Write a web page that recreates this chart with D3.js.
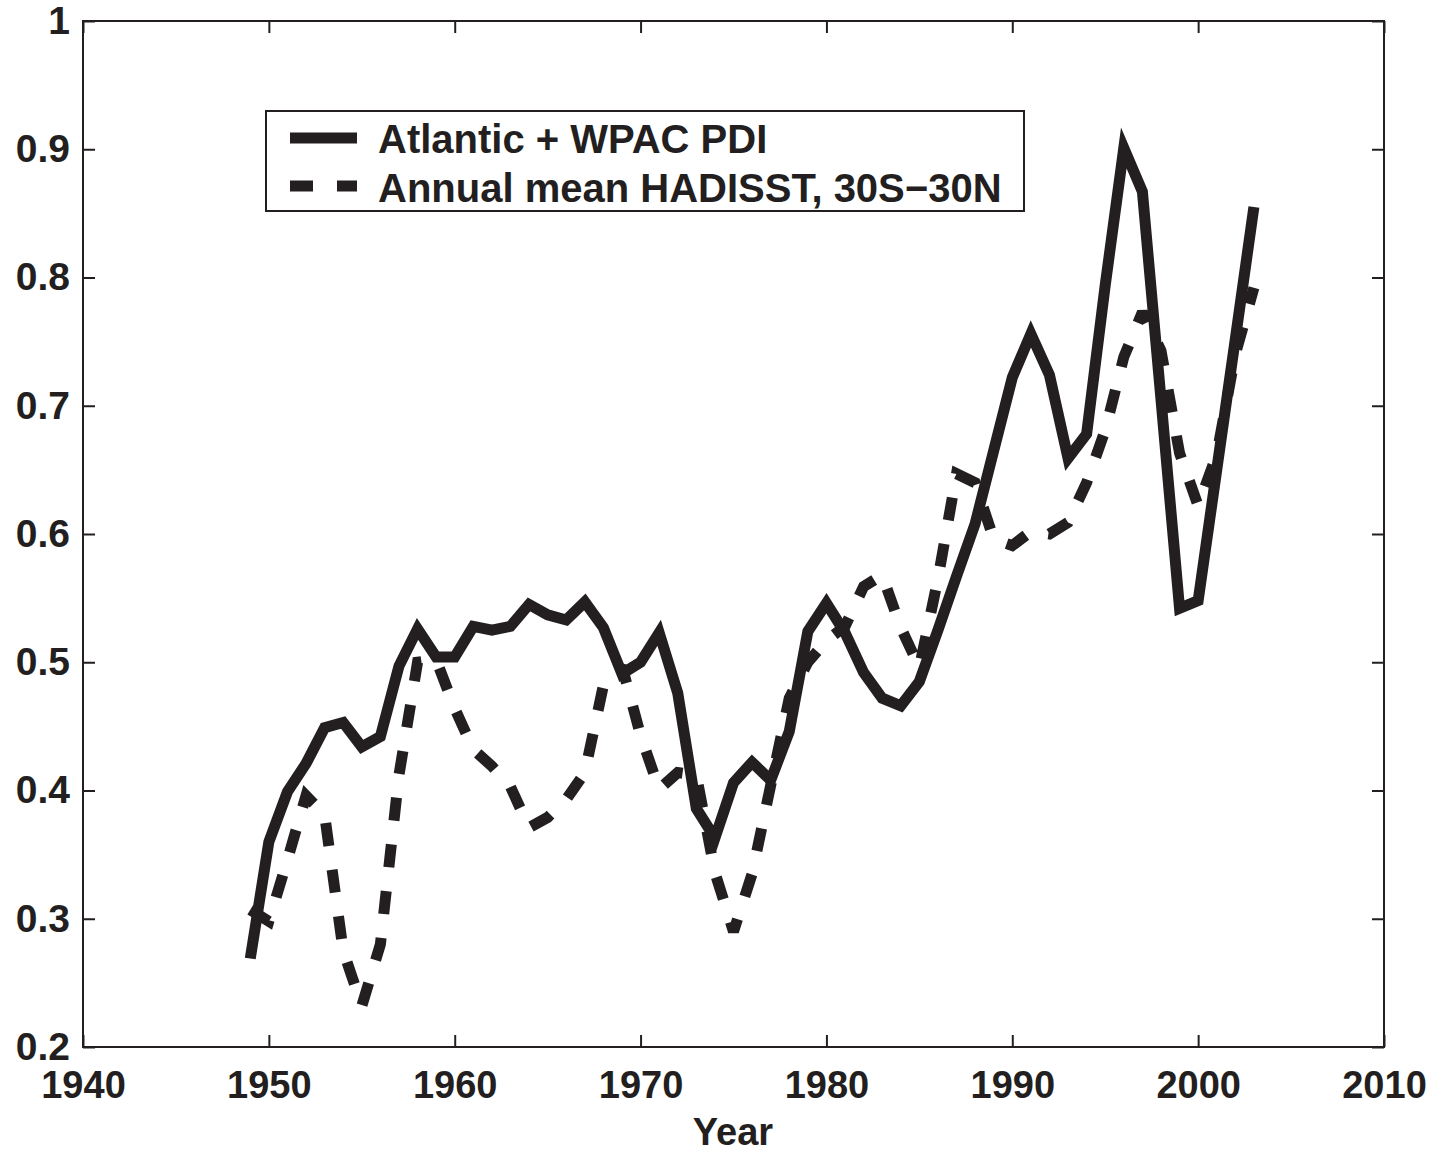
<!DOCTYPE html>
<html>
<head>
<meta charset="utf-8">
<script src="https://cdn.jsdelivr.net/npm/d3@7/dist/d3.min.js"></script>
<style>
  html, body { margin: 0; padding: 0; background: #ffffff; }
  svg { display: block; }
  text { font-family: "Liberation Sans", Arial, Helvetica, sans-serif; font-weight: bold; fill: #231f20; }
</style>
</head>
<body>
<svg id="chart" width="1435" height="1152"></svg>
<script>
// ---------------- data ----------------
const years = d3.range(1949, 2004);
const pdi = [
  0.269, 0.360, 0.399, 0.421, 0.449, 0.453, 0.434, 0.442, 0.497, 0.526,
  0.504, 0.504, 0.528, 0.525, 0.528, 0.545, 0.537, 0.533, 0.547, 0.527,
  0.491, 0.500, 0.523, 0.476, 0.386, 0.363, 0.406, 0.422, 0.408, 0.446,
  0.524, 0.546, 0.523, 0.492, 0.472, 0.466, 0.485, 0.525, 0.567, 0.608,
  0.665, 0.722, 0.756, 0.724, 0.659, 0.678, 0.794, 0.901, 0.867, 0.705,
  0.542, 0.548, 0.650, 0.752, 0.855
];
const sst = [
  0.307, 0.298, 0.346, 0.396, 0.381, 0.275, 0.232, 0.280, 0.412, 0.500,
  0.502, 0.464, 0.432, 0.419, 0.403, 0.371, 0.379, 0.393, 0.414, 0.482,
  0.497, 0.443, 0.401, 0.414, 0.412, 0.336, 0.290, 0.335, 0.404, 0.472,
  0.500, 0.517, 0.528, 0.559, 0.568, 0.527, 0.496, 0.565, 0.647, 0.640,
  0.596, 0.591, 0.602, 0.600, 0.609, 0.640, 0.681, 0.738, 0.773, 0.743,
  0.663, 0.622, 0.662, 0.740, 0.792
];
const seriesNames = ["Atlantic + WPAC PDI", "Annual mean HADISST, 30S\u221230N"];
const xTicks = [1940, 1950, 1960, 1970, 1980, 1990, 2000, 2010];
const yTicks = [0.2, 0.3, 0.4, 0.5, 0.6, 0.7, 0.8, 0.9, 1.0];
const yTickLabels = ["0.2", "0.3", "0.4", "0.5", "0.6", "0.7", "0.8", "0.9", "1"];
const xLabel = "Year";

// ---------------- layout ----------------
const ink = "#231f20";
const L = 83, R = 1384, T = 21, B = 1047;
const svg = d3.select("#chart");
const x = d3.scaleLinear().domain([1940, 2010]).range([L, R]);
const y = d3.scaleLinear().domain([0.2, 1.0]).range([B, T]);

// axes box
svg.append("rect").attr("x", L).attr("y", T).attr("width", R - L).attr("height", B - T)
  .attr("fill", "none").attr("stroke", ink).attr("stroke-width", 2);

function styleAxis(g, fs) {
  g.select(".domain").remove();
  g.selectAll(".tick line").attr("stroke", ink).attr("stroke-width", 2);
  g.selectAll(".tick text").attr("fill", ink).style("font-size", fs + "px")
    .style("font-family", "'Liberation Sans', Arial, sans-serif").style("font-weight", "bold");
}

const gx = svg.append("g").attr("transform", `translate(0,${B})`)
  .call(d3.axisBottom(x).tickValues(xTicks).tickFormat(d3.format("d")).tickSizeInner(-12).tickSizeOuter(0).tickPadding(24));
styleAxis(gx, 38);
const gxt = svg.append("g").attr("transform", `translate(0,${T})`)
  .call(d3.axisTop(x).tickValues(xTicks).tickFormat("").tickSizeInner(-12).tickSizeOuter(0));
styleAxis(gxt, 38);
const gy = svg.append("g").attr("transform", `translate(${L},0)`)
  .call(d3.axisLeft(y).tickValues(yTicks).tickFormat((d, i) => yTickLabels[i]).tickSizeInner(-12).tickSizeOuter(0).tickPadding(13));
styleAxis(gy, 39);
const gyr = svg.append("g").attr("transform", `translate(${R},0)`)
  .call(d3.axisRight(y).tickValues(yTicks).tickFormat("").tickSizeInner(-12).tickSizeOuter(0));
styleAxis(gyr, 38);

// x label
svg.append("text").attr("x", 733).attr("y", 1145).attr("text-anchor", "middle")
  .style("font-size", "38px").text(xLabel);

// ---------------- lines ----------------
const line = d3.line().x(d => x(d[0])).y(d => y(d[1]));
const sstData = years.map((yr, i) => [yr, sst[i]]);
const pdiData = years.map((yr, i) => [yr, pdi[i]]);

svg.append("path").datum(sstData).attr("d", line)
  .attr("fill", "none").attr("stroke", ink).attr("stroke-width", 11)
  .attr("stroke-dasharray", "23,24").attr("stroke-linejoin", "miter").attr("stroke-miterlimit", 2);
svg.append("path").datum(pdiData).attr("d", line)
  .attr("fill", "none").attr("stroke", ink).attr("stroke-width", 11)
  .attr("stroke-linejoin", "miter").attr("stroke-miterlimit", 4);

// ---------------- legend ----------------
const lg = svg.append("g");
lg.append("rect").attr("x", 266).attr("y", 111).attr("width", 758).attr("height", 100)
  .attr("fill", "#ffffff").attr("stroke", ink).attr("stroke-width", 2);
lg.append("line").attr("x1", 290).attr("x2", 357).attr("y1", 138).attr("y2", 138)
  .attr("stroke", ink).attr("stroke-width", 11);
lg.append("line").attr("x1", 290).attr("x2", 357).attr("y1", 186).attr("y2", 186)
  .attr("stroke", ink).attr("stroke-width", 11).attr("stroke-dasharray", "23,24");
lg.append("text").attr("x", 378).attr("y", 153).style("font-size", "40px").text(seriesNames[0]);
lg.append("text").attr("x", 378).attr("y", 202).style("font-size", "40px").text(seriesNames[1]);
</script>
</body>
</html>
